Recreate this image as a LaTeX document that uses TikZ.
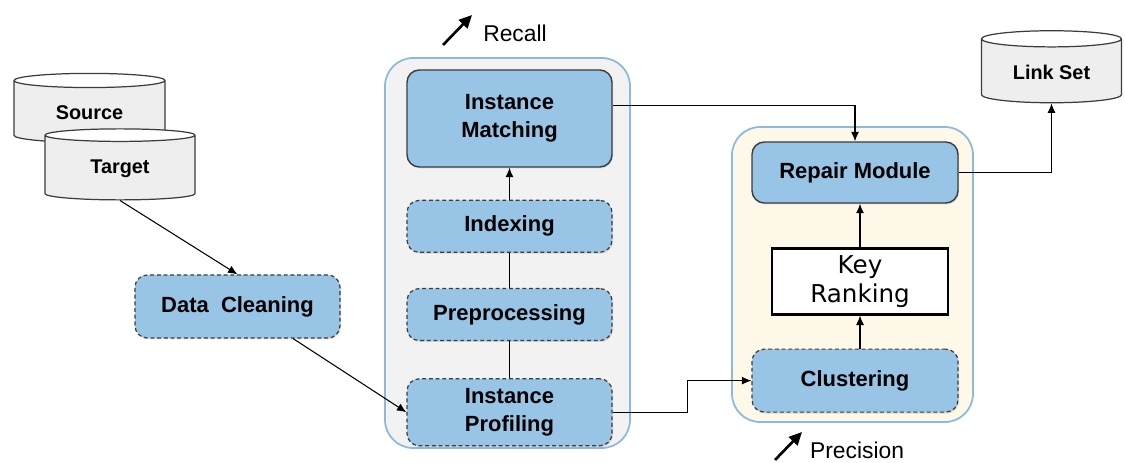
\documentclass[tikz,border=0pt]{standalone}
\usepackage{fontspec}
\setmainfont{Liberation Sans}
\newfontfamily\keyfont{DejaVu Sans}
\usetikzlibrary{positioning,arrows.meta,shapes.geometric,calc,shadows}
\definecolor{boxblue}{RGB}{152,196,230}
\definecolor{boxline}{RGB}{60,60,60}
\definecolor{panelline}{RGB}{140,185,222}
\definecolor{recallfill}{RGB}{242,242,242}
\definecolor{precfill}{RGB}{253,248,231}
\definecolor{dbfill}{RGB}{238,238,238}
\tikzset{
  panel/.style={draw=panelline, line width=1pt, rounded corners=16pt, inner sep=0pt},
  stage/.style={draw=boxline, fill=boxblue, rounded corners=7pt, align=center, inner sep=2pt,
                font=\fontsize{12.5}{16}\selectfont\bfseries,
                drop shadow={shadow xshift=0.6pt, shadow yshift=-0.8pt, opacity=0.25}},
  solidstage/.style={stage, line width=0.8pt},
  dashstage/.style={stage, dashed, dash pattern=on 2.2pt off 1.6pt, line width=0.7pt},
  keybox/.style={draw=black, fill=white, line width=1.6pt, align=center, inner sep=2pt,
                 font=\keyfont\fontsize{14}{16.5}\selectfont},
  dbase/.style={cylinder, shape border rotate=90, aspect=0.2, draw=boxline, line width=0.7pt,
                cylinder uses custom fill, cylinder body fill=dbfill, cylinder end fill=white,
                inner sep=1pt, font=\fontsize{11.3}{13}\selectfont\bfseries},
  fwd/.style={-{Latex[length=1.9mm,width=1.6mm]}, line width=0.6pt},
  link/.style={line width=0.6pt},
  trend/.style={-{Triangle[length=2.6mm,width=2.4mm]}, line width=1.5pt},
  trendtext/.style={font=\fontsize{13}{15}\selectfont},
}
\begin{document}
\begin{tikzpicture}
  \useasboundingbox (0,0) rectangle (22.5,9.24);

  % panels behind the stages
  \node[panel, fill=recallfill, minimum width=4.9cm, minimum height=7.8cm] (recall) at (10.15,4.18) {};
  \node[panel, fill=precfill, minimum width=4.82cm, minimum height=5.9cm] (precision) at (17.05,3.75) {};

  % data stores
  \node[dbase, minimum width=3.02cm, minimum height=1.38cm] (src) at (1.79,6.99) {Source};
  \node[dbase, minimum width=3.0cm, minimum height=1.42cm] (tgt) at (2.40,5.87) {Target};
  \node[dbase, minimum width=2.8cm, minimum height=1.44cm] (linkset) at (21.03,7.80) {Link Set};

  \node[dashstage, minimum width=4.1cm, minimum height=1.26cm] (clean) at (4.75,3.11) {Data~ Cleaning};

  % recall column
  \node[solidstage, minimum width=4.1cm, minimum height=1.94cm] (im) at (10.19,6.87) {Instance\\Matching};
  \node[dashstage, minimum width=4.1cm, minimum height=1.04cm] (idx) [below=0.64cm of im] {Indexing};
  \node[dashstage, minimum width=4.1cm, minimum height=1.04cm] (pre) [below=0.70cm of idx] {Preprocessing};
  \node[dashstage, minimum width=4.1cm, minimum height=1.34cm] (prof) [below=0.74cm of pre] {Instance\\Profiling};

  % precision column
  \node[solidstage, minimum width=4.12cm, minimum height=1.22cm] (rep) at (17.1,5.79) {Repair Module};
  \node[keybox, minimum width=3.52cm, minimum height=1.32cm] (key) [below=0.86cm of rep, xshift=0.1cm] {Key\\Ranking};
  \node[dashstage, minimum width=4.12cm, minimum height=1.26cm] (clus) [below=0.66cm of key, xshift=-0.1cm] {Clustering};

  % labels
  \node[trendtext] (recalltxt) at (10.3,8.58) {Recall};
  \node[trendtext] (prectxt) at (17.14,0.24) {Precision};
  \coordinate (recalltail) at (8.86,8.34);
  \coordinate (recallhead) at (9.44,8.94);
  \coordinate (prectail) at (15.5,0.04);
  \coordinate (prechead) at (16.04,0.6);
  \draw[trend] (recalltail) -- (recallhead);
  \draw[trend] (prectail) -- (prechead);

  % connectors
  \draw[fwd] (tgt.south) -- (clean.north);
  \draw[fwd] (clean.330) -- (prof.west);
  \draw[link] (prof.north) -- (pre.south);
  \draw[link] (pre.north) -- (idx.south);
  \draw[fwd] (idx.north) -- (im.south);
  \draw[fwd] ($(im.east)+(0,0.26)$) -| (rep.north);
  \draw[fwd] (prof.east) -- ++(1.5,0) |- (clus.west);
  \draw[fwd] (clus.north -| key.south) -- (key.south);
  \draw[fwd] (key.north) -- (key.north |- rep.south);
  \draw[fwd] (rep.east) -| (linkset.south);
\end{tikzpicture}
\end{document}
